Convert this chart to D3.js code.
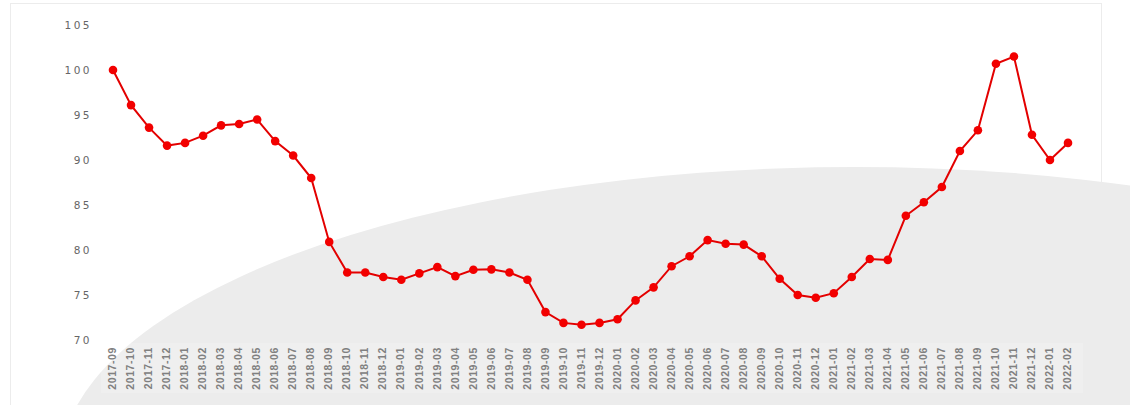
<!DOCTYPE html>
<html><head><meta charset="utf-8">
<script src="https://cdn.jsdelivr.net/npm/d3@7"></script>
<style>html,body{margin:0;padding:0;background:#fff;}svg{display:block;}</style>
</head><body>
<svg id="chart" width="1130" height="405"></svg>
<script>
const categories = ["2017-09","2017-10","2017-11","2017-12",
"2018-01","2018-02","2018-03","2018-04","2018-05","2018-06","2018-07","2018-08","2018-09","2018-10","2018-11","2018-12",
"2019-01","2019-02","2019-03","2019-04","2019-05","2019-06","2019-07","2019-08","2019-09","2019-10","2019-11","2019-12",
"2020-01","2020-02","2020-03","2020-04","2020-05","2020-06","2020-07","2020-08","2020-09","2020-10","2020-11","2020-12",
"2021-01","2021-02","2021-03","2021-04","2021-05","2021-06","2021-07","2021-08","2021-09","2021-10","2021-11","2021-12",
"2022-01","2022-02"];
const values = [100.0,96.1,93.6,91.6,
91.9,92.7,93.85,94.0,94.5,92.1,90.5,88.0,80.9,77.5,77.5,77.0,
76.7,77.4,78.1,77.1,77.8,77.85,77.5,76.7,73.1,71.9,71.7,71.9,
72.3,74.4,75.85,78.2,79.3,81.1,80.7,80.6,79.3,76.8,75.0,74.7,
75.2,77.0,79.0,78.9,83.8,85.3,87.0,91.0,93.3,100.7,101.5,92.8,
90.0,91.9];
const yTicks = [70,75,80,85,90,95,100,105];

const svg = d3.select("#chart");

// background decoration
svg.append("rect").attr("x",10.5).attr("y",3.5).attr("width",1091).attr("height",420)
  .attr("fill","none").attr("stroke","#ececec");
svg.append("ellipse").attr("cx",855).attr("cy",467).attr("rx",795).attr("ry",300)
  .attr("fill","#ececec");

const x = d3.scalePoint().domain(categories).range([113,1068]);
const y = d3.scaleLinear().domain([70,105]).range([340,25]);

// label band
svg.append("rect").attr("x",101).attr("y",343).attr("width",982).attr("height",50)
  .attr("fill","#fff").attr("opacity",0.18);

// y axis
const yAxis = svg.append("g").attr("transform","translate(92,0)")
  .call(d3.axisLeft(y).tickValues(yTicks).tickSize(0).tickPadding(0));
yAxis.select(".domain").remove();
yAxis.selectAll("text").attr("font-family","DejaVu Sans, sans-serif").attr("font-size",10.5)
  .attr("letter-spacing","2.5px").attr("fill","#666");

// x axis
const xAxis = svg.append("g").attr("transform","translate(0,345)")
  .call(d3.axisBottom(x).tickSize(0).tickPadding(0));
xAxis.select(".domain").remove();
xAxis.selectAll("text")
  .attr("font-family","Liberation Sans, Arial, sans-serif").attr("font-size",10.5).attr("font-weight","bold")
  .attr("letter-spacing","0.6px")
  .attr("fill","#808080")
  .attr("text-anchor","end")
  .attr("transform","rotate(-90)")
  .attr("x",-2).attr("y",-1).attr("dy","0.35em");

// line
const line = d3.line().x((d,i)=>x(categories[i])).y(d=>y(d));
svg.append("path").datum(values).attr("d",line).attr("fill","none")
  .attr("stroke","#e30000").attr("stroke-width",2);
svg.append("g").selectAll("circle").data(values).join("circle")
  .attr("cx",(d,i)=>x(categories[i])).attr("cy",d=>y(d)).attr("r",4.3)
  .attr("fill","#f20000");
</script>
</body></html>
